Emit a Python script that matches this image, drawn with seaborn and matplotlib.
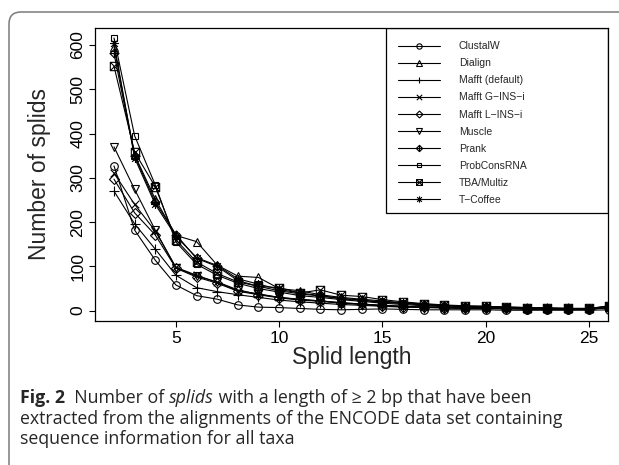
import matplotlib
matplotlib.use("Agg")
import matplotlib.pyplot as plt
import seaborn as sns
import pandas as pd
import numpy as np
from matplotlib.path import Path
from matplotlib.patches import FancyBboxPatch, Rectangle
from matplotlib.transforms import IdentityTransform

# splid lengths (2..26; the last point lies outside the visible x-range)
lengths = list(range(2, 27))

methods = ['ClustalW', 'Dialign', 'Mafft (default)', 'Mafft G\u2212INS\u2212i',
           'Mafft L\u2212INS\u2212i', 'Muscle', 'Prank', 'ProbConsRNA',
           'TBA/Multiz', 'T\u2212Coffee']

clustalw = [327, 182, 114, 58, 34, 26, 13, 8, 7, 5, 3, 2, 3, 4, 3, 2, 2, 2, 2, 1, 1, 1, 1, 1, 2]
dialign = [596, 352, 252, 170, 156, 103, 78, 75, 50, 45, 36, 30, 26, 22, 18, 15, 12, 10, 10, 8, 7, 6, 5, 5, 9]
mafft_default = [270, 196, 139, 80, 52, 43, 36, 30, 24, 20, 17, 14, 12, 10, 8, 7, 6, 5, 5, 4, 4, 3, 3, 3, 7]
mafft_gins = [311, 240, 180, 98, 80, 64, 45, 38, 30, 26, 22, 18, 15, 12, 10, 8, 7, 6, 6, 5, 4, 4, 3, 3, 8]
mafft_lins = [297, 221, 171, 96, 76, 62, 44, 36, 29, 24, 21, 17, 14, 11, 9, 8, 7, 6, 5, 5, 4, 3, 3, 3, 7]
muscle = [370, 274, 182, 97, 78, 65, 47, 37, 30, 25, 22, 18, 15, 12, 10, 8, 7, 6, 6, 5, 4, 4, 3, 3, 8]
prank = [581, 350, 245, 172, 118, 100, 68, 55, 45, 38, 33, 27, 23, 19, 16, 13, 11, 9, 8, 7, 6, 5, 5, 4, 10]
probcons = [616, 395, 284, 155, 105, 80, 62, 50, 42, 34, 30, 25, 21, 17, 14, 11, 9, 8, 7, 6, 5, 4, 4, 4, 9]
tba_multiz = [552, 358, 280, 160, 110, 84, 65, 55, 52, 40, 47, 35, 32, 25, 20, 16, 13, 11, 10, 8, 7, 6, 5, 5, 11]
tcoffee = [605, 345, 240, 168, 120, 102, 72, 60, 48, 40, 34, 28, 24, 20, 17, 14, 12, 10, 9, 8, 7, 6, 5, 5, 10]

counts = [clustalw, dialign, mafft_default, mafft_gins, mafft_lins,
          muscle, prank, probcons, tba_multiz, tcoffee]

x_ticks = [5, 10, 15, 20, 25]
y_ticks = [0, 100, 200, 300, 400, 500, 600]

df = pd.DataFrame([
    {'method': m, 'length': l, 'count': c}
    for m, vals in zip(methods, counts)
    for l, c in zip(lengths, vals)
])

# R-style plotting symbols (pch 1..10) as paths
M, L, C = Path.MOVETO, Path.LINETO, Path.CLOSEPOLY
plus_path = Path([(-1, 0), (1, 0), (0, -1), (0, 1)], [M, L, M, L])
cross_path = Path([(-1, -1), (1, 1), (-1, 1), (1, -1)], [M, L, M, L])
star_path = Path([(-1, 0), (1, 0), (0, -1), (0, 1),
                  (-.75, -.75), (.75, .75), (-.75, .75), (.75, -.75)],
                 [M, L, M, L, M, L, M, L])
diamond_plus = Path([(0, 1), (1, 0), (0, -1), (-1, 0), (0, 1),
                     (-1, 0), (1, 0), (0, -1), (0, 1)],
                    [M, L, L, L, C, M, L, M, L])
square_cross = Path([(-1, -1), (1, -1), (1, 1), (-1, 1), (-1, -1),
                     (-1, -1), (1, 1), (-1, 1), (1, -1)],
                    [M, L, L, L, C, M, L, M, L])
markers = ['o', '^', plus_path, cross_path, 'D', 'v', diamond_plus, 's',
           square_cross, star_path]
msizes = [5.5, 6, 7, 5.5, 5, 6, 6.5, 5, 6, 6.5]

sns.set_style('ticks')
plt.rcParams['font.family'] = ['Liberation Sans', 'DejaVu Sans']

fig = plt.figure(figsize=(6.19, 4.65), dpi=100)
ax = fig.add_axes([95 / 619, (465 - 321) / 465, 512.7 / 619, 293.5 / 465])

for m, mk, ms in zip(methods, markers, msizes):
    sub = df[df['method'] == m]
    sns.lineplot(data=sub, x='length', y='count', ax=ax, color='black',
                 marker=mk, markersize=ms, markerfacecolor='none',
                 markeredgecolor='black', markeredgewidth=0.8,
                 linewidth=0.8, label=m, legend=False)

ax.set_xlim(1.08, 25.92)
ax.set_ylim(-23.3, 639.6)
ax.set_xticks(x_ticks)
ax.set_yticks(y_ticks)
for sp in ax.spines.values():
    sp.set_visible(True)
    sp.set_color('black')
    sp.set_linewidth(0.9)
ax.tick_params(direction='out', length=4, width=0.8, labelsize=12.5, pad=3,
               colors='black')
ax.tick_params(axis='y', labelrotation=90)
for lab in ax.get_yticklabels():
    lab.set_va('center')
ax.set_xlabel('Splid length', fontsize=16.5, labelpad=0)
ax.set_ylabel('Number of splids', fontsize=16.5, labelpad=14)

# legend (R-style box anchored at the top-right corner)
handles, labels = ax.get_legend_handles_labels()
leg = ax.legend(handles, labels, loc='upper left',
                bbox_to_anchor=((393 - 95) / 512.7, (321 - 36) / 293.5),
                frameon=False, borderpad=0, fontsize=7.5, handlelength=4.0,
                handletextpad=1.8, labelspacing=0.68, markerscale=0.7)
ax.add_patch(Rectangle(((386 - 95) / 512.7, (321 - 213) / 293.5),
                       1 - (386 - 95) / 512.7, 1 - (321 - 213) / 293.5,
                       transform=ax.transAxes, fill=False, ec='black',
                       lw=0.9, zorder=5))

# outer panel frame with rounded corner
fig.add_artist(FancyBboxPatch((9, -60), 700, 465 - 12 + 60,
                              boxstyle='round,pad=0,rounding_size=12',
                              transform=IdentityTransform(), fill=False,
                              ec='#7a7a7a', lw=1.1))

# caption, built from styled pieces
cap_font = ['Open Sans', 'DejaVu Sans']
cap_size = 12.8
fig.canvas.draw()
renderer = fig.canvas.get_renderer()


def put_pieces(pieces, x_px, base_px):
    x = x_px
    for txt, weight, style in pieces:
        t = fig.text(x / 619, (465 - base_px) / 465, txt, family=cap_font,
                     fontsize=cap_size, fontweight=weight, fontstyle=style,
                     va='baseline', ha='left')
        x += t.get_window_extent(renderer).width


put_pieces([('Fig. 2', 'bold', 'normal'),
            ('  Number of ', 'normal', 'normal'),
            ('splids', 'normal', 'italic'),
            (' with a length of \u2265 2 bp that have been', 'normal', 'normal')],
           20, 403)
put_pieces([('extracted from the alignments of the ENCODE data set containing',
             'normal', 'normal')], 20, 424)
put_pieces([('sequence information for all taxa', 'normal', 'normal')], 20, 444)

fig.savefig('out.png', dpi=100)
